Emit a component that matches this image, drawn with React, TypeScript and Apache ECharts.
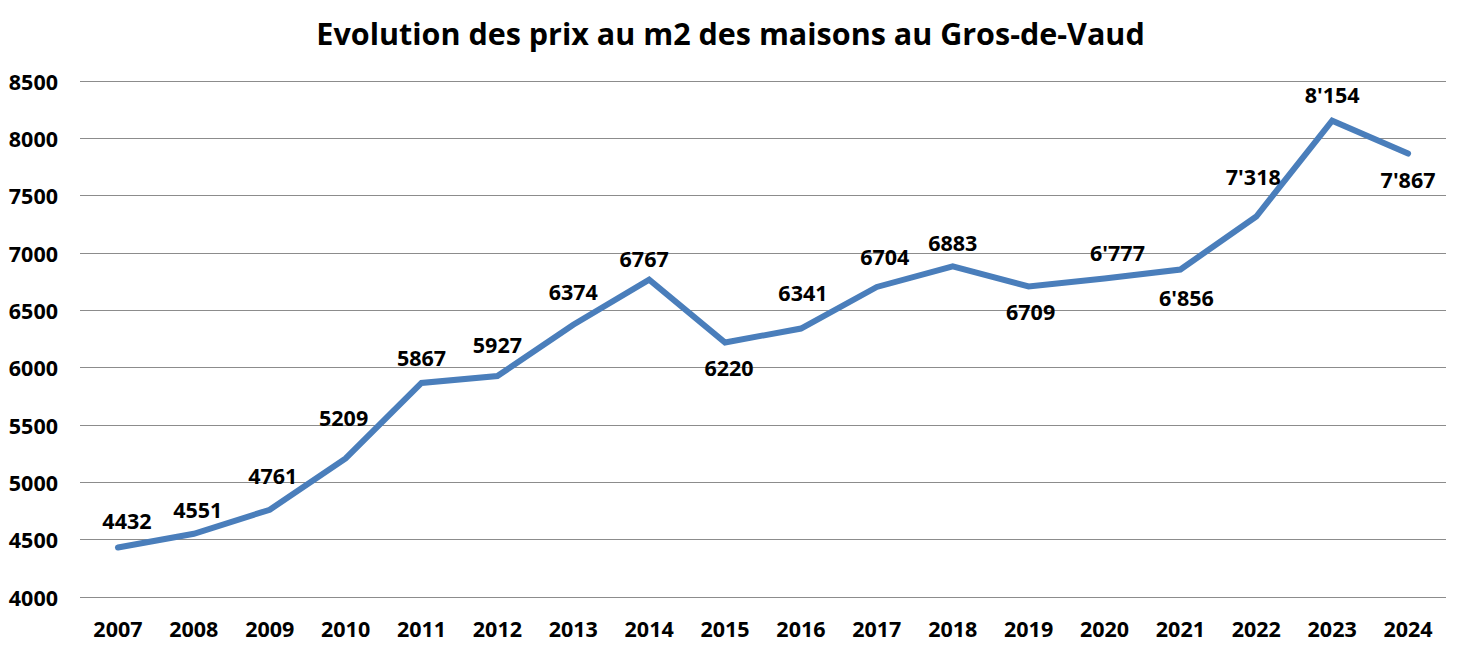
import React, { useEffect, useRef } from "react";
import * as echarts from "echarts";

const years = ["2007","2008","2009","2010","2011","2012","2013","2014","2015","2016","2017","2018","2019","2020","2021","2022","2023","2024"];
const prices = [4432,4551,4761,5209,5867,5927,6374,6767,6220,6341,6704,6883,6709,6777,6856,7318,8154,7867];
const labelTexts = ["4432","4551","4761","5209","5867","5927","6374","6767","6220","6341","6704","6883","6709","6'777","6'856","7'318","8'154","7'867"];
const labelBelow = [false,false,false,false,false,false,false,false,true,false,false,false,true,false,true,false,false,true];
const yTicks = { min: 4000, max: 8500, interval: 500 };
const title = "Evolution des prix au m2 des maisons au Gros-de-Vaud";

// layout-only nudges of the value labels (pixels), mimicking the original placement
const labelNudge: [number, number][] = [
  [9, -3], [4, -1], [3, -11], [-2, -17], [0, -2], [0, -8], [0, -10], [-5, 2], [4, 2],
  [2, -13], [8, -7], [0, 0], [2, 2], [13, -3], [6, 4], [-3, -17], [0, -3], [0, 2],
];

const FONT = "'Open Sans', 'Liberation Sans', sans-serif";

export default function App() {
  const ref = useRef<HTMLDivElement>(null);
  useEffect(() => {
    const chart = echarts.init(ref.current!, null, { renderer: "svg" });
    chart.setOption({
      animation: false,
      backgroundColor: "#ffffff",
      title: {
        text: title,
        left: "center",
        top: 12,
        textStyle: { fontFamily: FONT, fontWeight: "bold", fontSize: 30.5, color: "#000" },
      },
      grid: { left: 80, right: 15, top: 81, bottom: 53, containLabel: false },
      xAxis: {
        type: "category",
        data: years,
        boundaryGap: true,
        axisLine: { show: false },
        axisTick: { show: false },
        axisLabel: { fontFamily: FONT, fontWeight: "bold", fontSize: 21.5, color: "#000", margin: 20 },
      },
      yAxis: {
        type: "value",
        min: yTicks.min,
        max: yTicks.max,
        interval: yTicks.interval,
        axisLine: { show: false },
        axisTick: { show: false },
        splitLine: { lineStyle: { color: "#8c8c8c", width: 1 } },
        axisLabel: {
          fontFamily: FONT, fontWeight: "bold", fontSize: 21.5, color: "#000", margin: 22,
          formatter: (v: number) => String(v),
        },
      },
      series: [
        {
          type: "line",
          data: prices.map((v, i) => ({
            value: v,
            label: {
              position: labelBelow[i] ? "bottom" : "top",
              offset: labelNudge[i],
            },
          })),
          symbol: "circle",
          showSymbol: true,
          symbolSize: 1,
          itemStyle: { color: "rgba(0,0,0,0)" },
          lineStyle: { color: "#4a7ebb", width: 6, cap: "round", join: "miter" },
          label: {
            show: true,
            distance: 12,
            fontFamily: FONT, fontWeight: "bold", fontSize: 21.5, color: "#000",
            formatter: (p: any) => labelTexts[p.dataIndex],
          },
        },
      ],
    });
    return () => chart.dispose();
  }, []);
  return <div ref={ref} style={{ position: "fixed", left: 0, top: 0, width: 1461, height: 650 }} />;
}
